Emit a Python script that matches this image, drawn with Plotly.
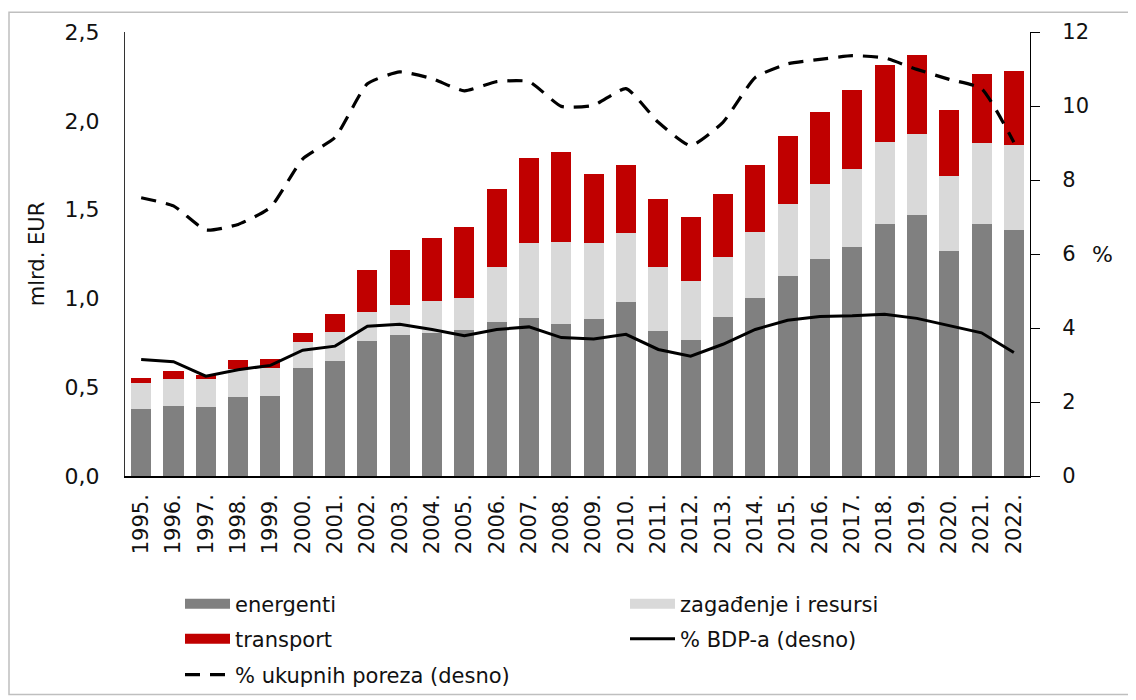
import plotly.graph_objects as go

years = [f"{y}." for y in range(1995, 2023)]

energenti = [0.376, 0.394, 0.391, 0.445, 0.450, 0.607, 0.646, 0.759, 0.792, 0.805,
             0.824, 0.869, 0.891, 0.856, 0.886, 0.981, 0.818, 0.768, 0.895, 1.003,
             1.127, 1.222, 1.289, 1.418, 1.470, 1.267, 1.420, 1.386]
zagadjenje_top = [0.525, 0.548, 0.544, 0.605, 0.609, 0.753, 0.809, 0.921, 0.964, 0.985,
                  1.005, 1.175, 1.312, 1.317, 1.310, 1.366, 1.177, 1.099, 1.231, 1.375,
                  1.534, 1.646, 1.730, 1.883, 1.928, 1.691, 1.874, 1.864]
ukupno_top = [0.551, 0.592, 0.566, 0.654, 0.661, 0.803, 0.912, 1.162, 1.271, 1.338,
              1.401, 1.614, 1.790, 1.827, 1.700, 1.752, 1.560, 1.457, 1.588, 1.751,
              1.915, 2.050, 2.175, 2.313, 2.373, 2.061, 2.265, 2.280]
bdp_pct = [3.15, 3.09, 2.70, 2.87, 2.99, 3.40, 3.51, 4.05, 4.10, 3.96,
           3.79, 3.96, 4.03, 3.74, 3.70, 3.83, 3.42, 3.24, 3.56, 3.96,
           4.21, 4.31, 4.33, 4.37, 4.26, 4.07, 3.87, 3.34]
porezi_pct = [7.52, 7.30, 6.65, 6.80, 7.26, 8.57, 9.15, 10.60, 10.92, 10.74,
              10.41, 10.66, 10.66, 9.99, 10.02, 10.47, 9.56, 8.93, 9.56, 10.77,
              11.14, 11.26, 11.36, 11.30, 10.99, 10.72, 10.47, 9.02]

zagadjenje = [round(z - e, 3) for z, e in zip(zagadjenje_top, energenti)]
transport = [round(t - z, 3) for t, z in zip(ukupno_top, zagadjenje_top)]

FONT = "DejaVu Sans"
TXT = "#111111"
C_EN, C_ZAG, C_TR = "#808080", "#D9D9D9", "#C00000"
# page body adds an 8px offset, so the figure is sized to fill the rest of the window
W, H = 1128, 692
PL, PR, PT, PB = 117, 106, 21, 224
PW, PH = W - PL - PR, H - PT - PB

fig = go.Figure()
for vals, name, col, lg in [(energenti, "energenti", C_EN, "legend"),
                            (zagadjenje, "zagađenje i resursi", C_ZAG, "legend2"),
                            (transport, "transport", C_TR, "legend3")]:
    fig.add_trace(go.Bar(x=years, y=vals, name=name, legendgroup=name, showlegend=False,
                         marker=dict(color=col, line=dict(width=0))))
    # wide swatch legend entry for the bar series
    fig.add_trace(go.Scatter(x=[None], y=[None], name=name, legendgroup=name, legend=lg,
                             mode="lines", line=dict(color=col, width=12),
                             hoverinfo="skip"))

fig.add_trace(go.Scatter(x=years, y=bdp_pct, name="% BDP-a (desno)", yaxis="y2",
                         legend="legend4", mode="lines",
                         line=dict(color="black", width=3)))
fig.add_trace(go.Scatter(x=years, y=porezi_pct, name="% ukupnih poreza (desno)", yaxis="y2",
                         legend="legend5", mode="lines",
                         line=dict(color="black", width=3.2, dash="15px,10px",
                                   shape="spline", smoothing=0.5)))

leg_common = dict(orientation="h", xref="container", yref="container",
                  xanchor="left", yanchor="middle",
                  font=dict(family=FONT, size=21, color=TXT),
                  itemwidth=45, bgcolor="rgba(0,0,0,0)")


def leg(px, py):
    return dict(leg_common, x=px / W, y=1 - py / H)


fig.update_layout(
    width=W, height=H,
    barmode="stack", bargap=0.38,
    separators=", ",
    paper_bgcolor="white", plot_bgcolor="white",
    font=dict(family=FONT, size=21, color=TXT),
    margin=dict(l=PL, r=PR, t=PT, b=PB),
    xaxis=dict(tickangle=-90, showgrid=False, showline=True, linecolor="black",
               linewidth=1.5, ticks="", tickfont=dict(size=21), ticklabelstandoff=8),
    yaxis=dict(range=[0, 2.5], dtick=0.5, tickformat=".1f", showgrid=False,
               showline=True, linecolor="#333333", linewidth=1.2,
               ticks="outside", ticklen=20, tickcolor="rgba(0,0,0,0)",
               tickfont=dict(size=22), zeroline=False,
               title=dict(text="mlrd. EUR", standoff=14, font=dict(size=21))),
    yaxis2=dict(range=[0, 12], dtick=2, overlaying="y", side="right", showgrid=False,
                showline=True, linecolor="black", linewidth=1.2, ticks="outside",
                ticklen=9, tickcolor="black", zeroline=False, tickfont=dict(size=21),
                ticklabelstandoff=18),
    legend=leg(172, 596),
    legend2=leg(617, 596),
    legend3=leg(172, 631),
    legend4=leg(617, 631),
    legend5=leg(172, 667),
    showlegend=True,
    annotations=[dict(text="%", xref="paper", yref="paper", x=(1094 - PL) / PW,
                      y=(PH - (245 - PT)) / PH, showarrow=False, font=dict(size=22),
                      xanchor="center", yanchor="middle")],
    shapes=[dict(type="rect", xref="paper", yref="paper",
                 x0=(1 - PL) / PW, x1=(1123 - PL) / PW,
                 y0=(PH - (688 - PT)) / PH, y1=(PH - (1 - PT)) / PH,
                 line=dict(color="#BFBFBF", width=1.5), fillcolor="rgba(0,0,0,0)",
                 layer="below")],
)

fig.write_html("out.html")
